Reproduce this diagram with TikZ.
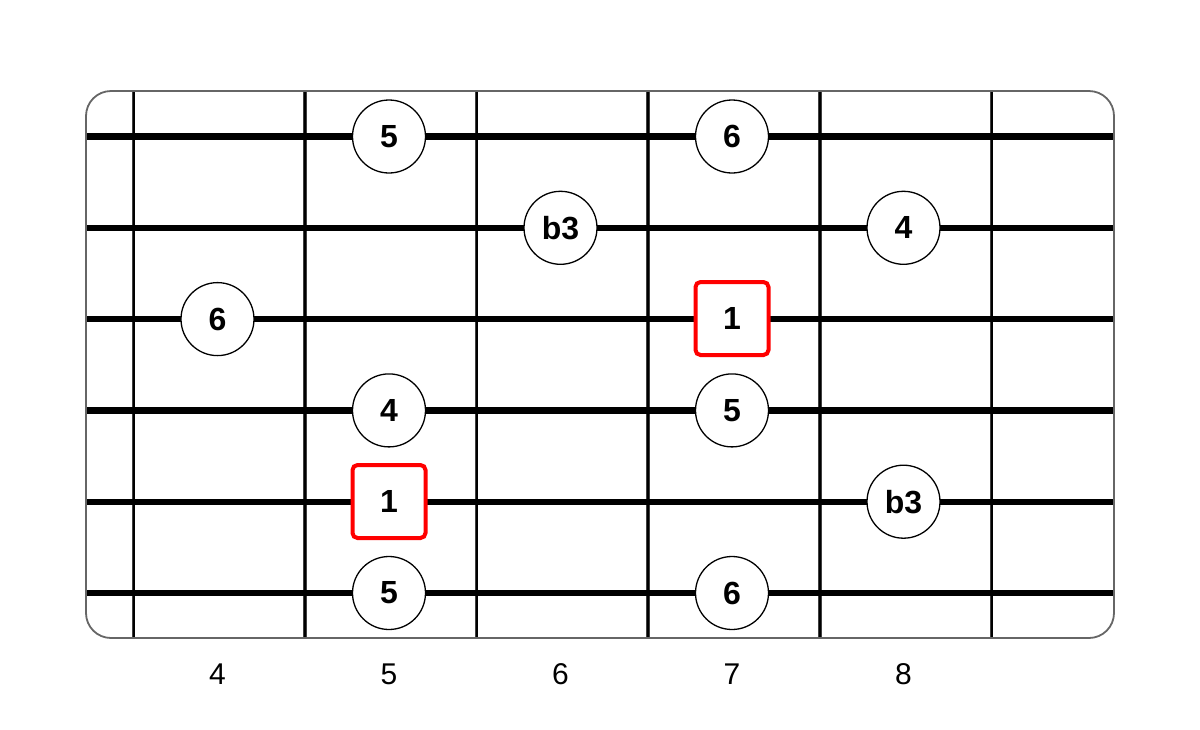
\documentclass[tikz,border=0pt]{standalone}
\usepackage{fontspec}
\setmainfont{Liberation Sans}
\begin{document}
\begin{tikzpicture}[x=1pt,y=-1pt,
  note/.style={circle,draw=black,line width=1.3pt,fill=white,minimum size=73pt,inner sep=0pt,font=\fontsize{32}{34}\selectfont\bfseries},
  root/.style={rectangle,rounded corners=5pt,draw=red,line width=4pt,fill=white,minimum width=73pt,minimum height=73pt,inner sep=0pt,font=\fontsize{32}{34}\selectfont\bfseries},
  fretnum/.style={font=\fontsize{30}{32}\selectfont},
  stringline/.style={line width=6.3pt,black},
  fretline/.style={line width=3.5pt,black!75},
  fretcore/.style={line width=2pt,black}]
\useasboundingbox (0,0) rectangle (1200,729);
\fill[white] (0,0) rectangle (1200,729);
\begin{scope}
\clip[rounded corners=25pt] (86,91) rectangle (1114,638);
\foreach \x in {133.5,305,476.5,648,820,991.5}{
  \draw[fretline] (\x,91) -- (\x,638);
  \draw[fretcore] (\x,91) -- (\x,638);
}
\foreach \y in {136.5,227.8,319.1,410.4,501.7,593}{
  \draw[stringline] (86,\y) -- (1114,\y);
}
\end{scope}
\draw[line width=1.8pt,black!60,rounded corners=25pt] (86,91) rectangle (1114,638);
% notes
\node[note] (n1) at (389,136.5) {5};
\node[note] (n2) at (732,136.5) {6};
\node[note] (n3) at (560.5,227.8) {b3};
\node[note] (n4) at (903.5,227.8) {4};
\node[note] (n5) at (217.5,319.1) {6};
\node[root] (r1) at (732,318.5) {1};
\node[note] (n6) at (389,410.4) {4};
\node[note] (n7) at (732,410.4) {5};
\node[root] (r2) at (389,501.5) {1};
\node[note] (n8) at (903.5,501.7) {b3};
\node[note] (n9) at (389,593) {5};
\node[note] (n10) at (732,593) {6};
% fret numbers
\node[fretnum] (f4) at (217.5,674) {4};
\node[fretnum] (f5) at (389,674) {5};
\node[fretnum] (f6) at (560.5,674) {6};
\node[fretnum] (f7) at (732,674) {7};
\node[fretnum] (f8) at (903.5,674) {8};
\end{tikzpicture}
\end{document}
